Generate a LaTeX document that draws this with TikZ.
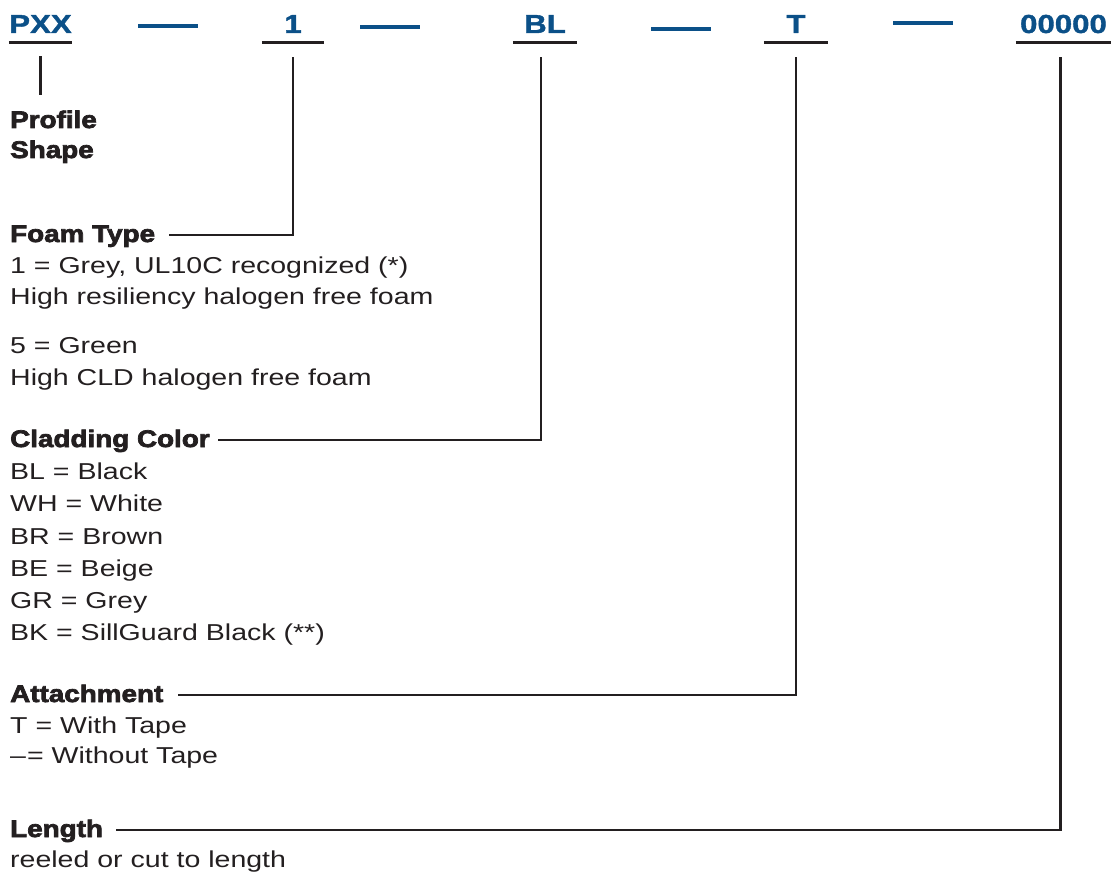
\documentclass[tikz,border=0pt]{standalone}
\usepackage{fontspec}
\setmainfont[FakeStretch=1.24]{Liberation Sans}
\newfontfamily\headfont[FakeStretch=1.16,FakeBold=3]{Liberation Sans Bold}
\newfontfamily\codefont[FakeStretch=1.2,FakeBold=1.5]{Liberation Sans Bold}
\usetikzlibrary{calc}
\definecolor{codeBlue}{HTML}{0B5088}
\definecolor{keyInk}{HTML}{231F20}
\tikzset{
  key/code/.style={font=\codefont\fontsize{26}{30}\selectfont, text=codeBlue,
    inner sep=0pt, anchor=base, text height=18pt, text depth=9pt},
  key/uline/.style={draw=keyInk, line width=3pt},
  key/leader/.style={draw=keyInk, line width=2.4pt},
  key/sepdash/.style={fill=codeBlue, minimum width=60pt, minimum height=3.5pt,
    inner sep=0pt},
  key/head/.style={font=\headfont\fontsize{24}{30}\selectfont, text=keyInk,
    inner sep=0pt, anchor=base west, text height=17pt, text depth=3pt},
  key/body/.style={font=\fontsize{23}{26}\selectfont, text=keyInk,
    inner sep=0pt, anchor=base west},
}
\begin{document}
\begin{tikzpicture}[x=1pt, y=-1pt]
\useasboundingbox (0,0) rectangle (1112,872);
% part number
\node[key/code, minimum width=63pt] (pxx) at (40.5,33) {PXX};
\node[key/code, minimum width=62pt] (one) at (293,33) {1};
\node[key/code, minimum width=64pt] (bl) at (545,33) {BL};
\node[key/code, minimum width=64pt] (tape) at (796,33) {T};
\node[key/code, minimum width=95pt] (len) at (1063.5,33) {00000};
\node[key/sepdash] (d1) at (168,26) {};
\node[key/sepdash] (d2) at (390,27) {};
\node[key/sepdash] (d3) at (681,29) {};
\node[key/sepdash] (d4) at (923,23) {};
\foreach \c in {pxx,one,bl,tape,len}
  \draw[key/uline] (\c.south west) -- (\c.south east);
% legend
\node[key/head] (profile) at (10,128) {Profile};
\node[key/head] (shape) at (10,158) {Shape};
\node[key/head] (foam) at (10,242) {Foam Type};
\node[key/head] (clad) at (10,447) {Cladding Color};
\node[key/head] (attach) at (10,702) {Attachment};
\node[key/head] (length) at (10,837) {Length};
\foreach \txt [count=\i] in {{1 = Grey, UL10C recognized (*)},
    High resiliency halogen free foam}
  \node[key/body] (foam\i) at (10,242+31*\i) {\txt};
\node[key/body] (foam3) at (10,353) {5 = Green};
\node[key/body] (foam4) at (10,385) {High CLD halogen free foam};
\foreach \txt [count=\i] in {BL = Black, WH = White, BR = Brown, BE = Beige,
    GR = Grey, BK = SillGuard Black (**)}
  \node[key/body] (clad\i) at (10,447.5+32.2*\i) {\txt};
\node[key/body] (attach1) at (10,733) {T = With Tape};
\node[key/body] (attach2) at (10,763) {–\kern1pt= Without Tape};
\node[key/body] (length1) at (10,867) {reeled or cut to length};
% leaders
\draw[key/leader] (pxx.south) ++(0,14) -- ($(profile.north -| pxx.south)+(0,-16)$);
\draw[key/leader] (one.south) ++(0,15) |- ([xshift=14pt]foam.east);
\draw[key/leader] (bl.south) ++(-4,15) |- ([xshift=8pt]clad.east);
\draw[key/leader] (tape.south) ++(0,15) |- ([xshift=14pt]attach.east);
\draw[key/leader] (len.south) ++(-3,15) |- ([xshift=13pt]length.east);
\end{tikzpicture}
\end{document}
